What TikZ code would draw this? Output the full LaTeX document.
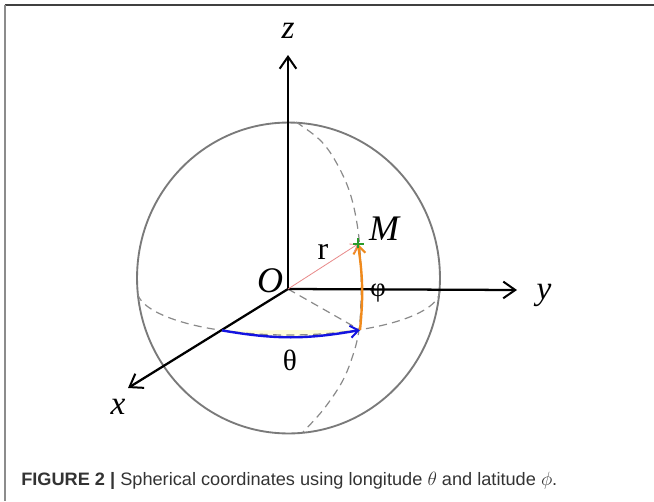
\documentclass[tikz,border=0pt]{standalone}
\usepackage{fontspec}
\setmainfont{Liberation Serif}
\setsansfont{Liberation Sans}
\usetikzlibrary{arrows.meta,calc}
\definecolor{spheregray}{HTML}{7A7A7A}
\definecolor{dashgray}{HTML}{8A8A8A}
\definecolor{arcblue}{HTML}{1414E0}
\definecolor{arcorange}{HTML}{F08A1C}
\definecolor{markgreen}{HTML}{2A9A2A}
\definecolor{rpink}{HTML}{E88A8A}
\definecolor{captext}{HTML}{333333}
\begin{document}
\begin{tikzpicture}[x=0.75pt,y=-0.75pt,
  axis/.style={black, line width=1.7pt, -{Straight Barb[length=9pt,width=12.5pt,line width=1.5pt]}},
  sphereline/.style={spheregray, line width=1.4pt},
  dashline/.style={dashgray, line width=0.9pt, dash pattern=on 6pt off 4pt},
  bluearc/.style={arcblue, line width=1.8pt, -{Straight Barb[length=6pt,width=9pt,line width=1.5pt]}},
  orangearc/.style={arcorange, line width=1.8pt, -{Straight Barb[length=6pt,width=9pt,line width=1.5pt]}},
  rline/.style={rpink, line width=0.6pt, -{Straight Barb[length=5pt,width=7pt,line width=0.6pt]}},
  axlbl/.style={font=\fontsize{25}{27}\selectfont\itshape, inner sep=0pt},
  ptlbl/.style={font=\fontsize{27}{29}\selectfont\itshape, inner sep=0pt},
  greeklbl/.style={font=\fontsize{20}{22}\selectfont, inner sep=0pt},
]
\useasboundingbox (0,0) rectangle (654,501);
% frame
\draw[black!75, line width=1.5pt] (4.5,4.5) -- (654,4.5);
\draw[black!45, line width=1.5pt] (4.5,4.5) -- (4.5,501);

% key points
\coordinate (O) at (288,289);
\coordinate (M) at (358,244);
\coordinate (P) at (360,330);
\coordinate (A) at (222,330.4);
\coordinate (Zend) at (288,55);
\coordinate (Yend) at (517,290);
\coordinate (Xend) at (128,388);

% sphere
\draw[sphereline] (288.5,278) ellipse [x radius=113.6pt, y radius=116.6pt];

% faint fill under theta arc
\fill[yellow!14] (A) to[bend right=10] (P) -- cycle;

% equator (front half)
\draw[dashline] plot[domain=0:180, samples=80] ({288.5+151.5*cos(\x)},{290+45*sin(\x)});
% meridian
\draw[dashline] plot[smooth, tension=0.6] coordinates {(296,122) (320,140) (336,162) (350,193) (358,230) (361,270) (361,300) (359,330) (353,355) (342,382) (323,410) (303,432)};
% projection of OM
\draw[dashline] (O) -- (P);

% axes
\draw[axis] (O) -- (Zend);
\draw[axis] (O) -- (Yend);
\draw[axis] (O) -- (Xend);

% arcs
\draw[bluearc] (A) to[bend right=10] (P);
\draw[orangearc] (P) to[bend right=7] (M);
% radius
\draw[rline] (O) -- (M);
% point marker
\draw[markgreen, line width=1.3pt] ($(M)+(-5,0)$) -- ($(M)+(6,0)$);
\draw[markgreen, line width=1.3pt] ($(M)+(0,-6)$) -- ($(M)+(0,4)$);

% labels
\node[axlbl] (lz) at (288,31) {z};
\node[axlbl] (ly) at (544,295) {y};
\node[axlbl] (lx) at (118,407) {x};
\node[ptlbl] (lO) at (270,281) {O};
\node[ptlbl] (lM) at (384,229) {M};
\node[font=\fontsize{24}{26}\selectfont, inner sep=0pt] (lr) at (323,252) {r};
\node[greeklbl] (lphi) at (378,293) {φ};
\node[font=\fontsize{22}{24}\selectfont, inner sep=0pt] (ltheta) at (290,360) {θ};

% caption
\node[anchor=base west, inner sep=0pt, text=captext] (cap) at (21,485)
  {\resizebox{402pt}{\height}{\fontsize{13.5}{16}\selectfont\sffamily\textbf{FIGURE 2 |} Spherical coordinates using longitude $\theta$ and latitude $\phi$.}};
\end{tikzpicture}
\end{document}
